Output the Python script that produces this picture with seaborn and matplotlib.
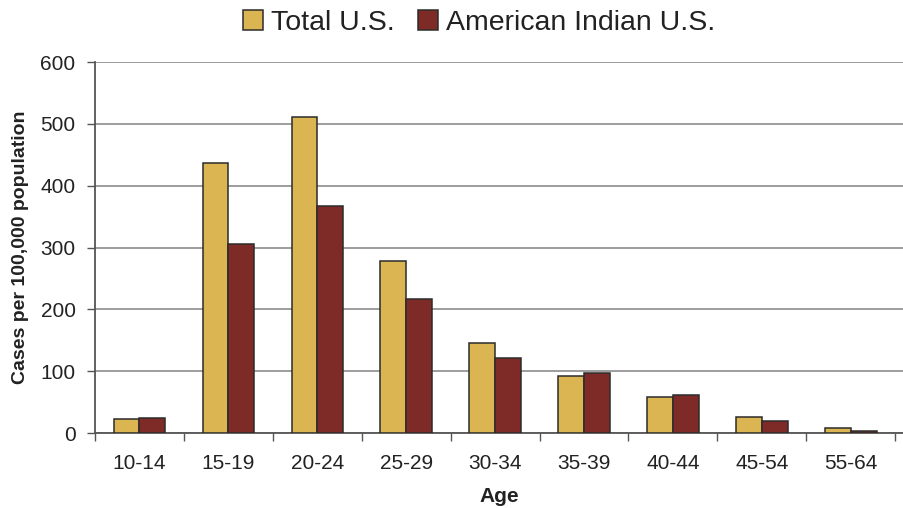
import pandas as pd
import matplotlib
matplotlib.use('Agg')
import matplotlib.pyplot as plt
import seaborn as sns

# age groups and rates (cases per 100,000)
ages = ['10-14', '15-19', '20-24', '25-29', '30-34', '35-39', '40-44', '45-54', '55-64']
total_us = [23, 437, 512, 278, 146, 93, 59, 26, 8]
american_indian = [24, 306, 368, 217, 122, 97, 61, 20, 4]
series_names = ['Total U.S.', 'American Indian U.S.']
colors = ['#DBB552', '#7E2B28']

df = pd.DataFrame({
    'Age': ages * 2,
    'Rate': total_us + american_indian,
    'Group': [series_names[0]] * len(ages) + [series_names[1]] * len(ages),
})

sns.set_style('white')
plt.rcParams['font.family'] = ['Liberation Sans', 'DejaVu Sans']

fig = plt.figure(figsize=(9.04, 5.08), dpi=100)
ax = fig.add_axes([0.1051, 0.1476, 0.895, 0.730])

sns.barplot(data=df, x='Age', y='Rate', hue='Group', palette=colors, saturation=1,
            width=0.58, edgecolor='#2b2b2b', linewidth=1.1, ax=ax, zorder=3)

ax.set_ylim(0, 600)
ax.set_xlim(-0.5, 8.6)
ax.set_yticks(range(0, 601, 100))
ax.yaxis.grid(True, color='#8c8c8c', linewidth=1.2, zorder=0)
ax.set_axisbelow(True)

# category boundary ticks, labels at centres
ax.set_xticks([i - 0.5 for i in range(len(ages) + 1)])
ax.set_xticklabels([])
ax.set_xticks(range(len(ages)), minor=True)
ax.set_xticklabels(ages, minor=True, fontsize=15, color='#222222')
ax.tick_params(axis='x', which='major', length=6, width=1, color='#555555', direction='out', bottom=True)
ax.tick_params(axis='x', which='minor', length=0, pad=15)
ax.tick_params(axis='y', length=6, width=1, color='#555555', direction='out', left=True,
               labelsize=15, labelcolor='#222222', pad=8)

for side in ['top', 'right']:
    ax.spines[side].set_visible(False)
for side in ['left', 'bottom']:
    ax.spines[side].set_color('#555555')
    ax.spines[side].set_linewidth(1.3)

ax.set_xlabel('Age', fontsize=15, fontweight='bold', color='#222222', labelpad=10)
ax.set_ylabel('Cases per 100,000 population', fontsize=14, fontweight='bold', color='#222222', labelpad=8)

handles, labels = ax.get_legend_handles_labels()
ax.legend(handles, labels, loc='upper center', bbox_to_anchor=(0.475, 1.21), ncol=2,
          frameon=False, fontsize=20.5, handlelength=0.7, handleheight=0.7,
          handletextpad=0.3, columnspacing=0.8, labelcolor='#222222')

fig.savefig('out.png', dpi=100)
